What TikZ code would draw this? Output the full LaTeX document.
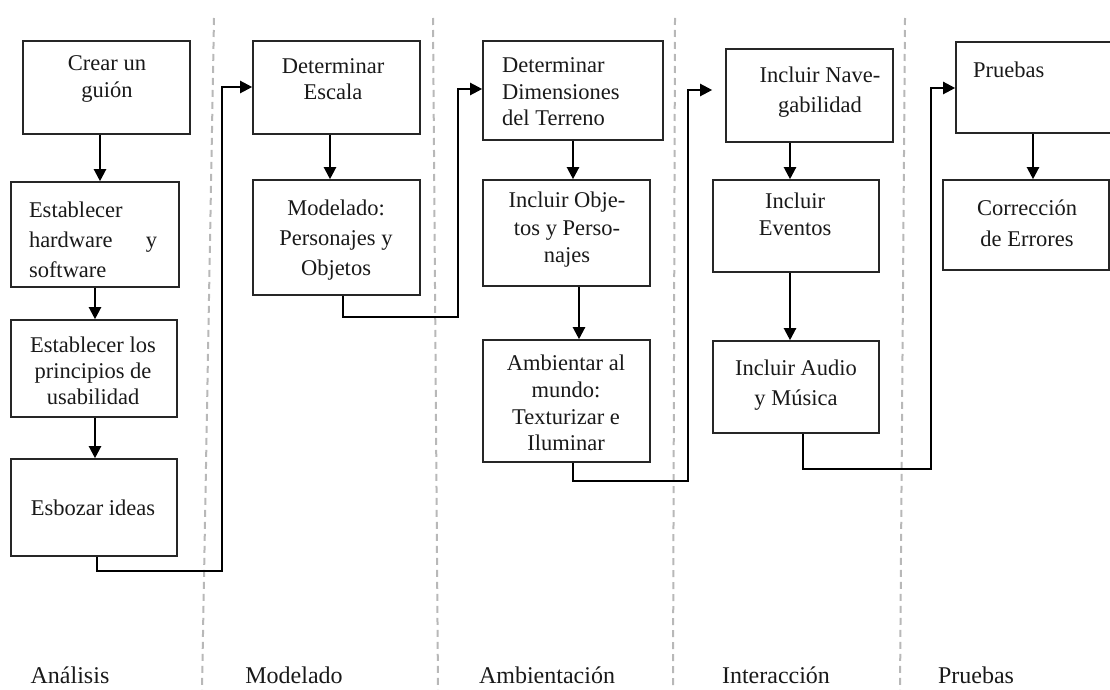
\documentclass[tikz,border=0pt]{standalone}
\usepackage{fontspec}
\setmainfont{Liberation Serif}
\usetikzlibrary{arrows.meta,calc}
\begin{document}
\begin{tikzpicture}[x=1pt,y=-1pt,
  box/.style={draw=black!85, line width=1.6pt, inner sep=0pt},
  txt/.style={inner sep=0pt, align=center, text=black!90, font=\fontsize{22.5}{27}\selectfont},
  arr/.style={draw=black, line width=2.2pt, line join=miter, -{Triangle[length=12pt,width=12pt]}},
  sep/.style={draw=black!28, line width=2pt, dash pattern=on 7pt off 5pt},
  lab/.style={inner sep=0pt, text=black!90, font=\fontsize{24}{28}\selectfont}]
\useasboundingbox (0,0) rectangle (1110,690);

% separators
\draw[sep] (214,18) -- (202,690);
\draw[sep] (433,18) -- (438,690);
\draw[sep] (675,18) -- (673,690);
\draw[sep] (905,18) -- (900,690);

% boxes
\node[box, minimum width=167pt, minimum height=93pt]  (b1)  at (106.5,87.5) {};
\node[box, minimum width=168pt, minimum height=105pt] (b2)  at (95,234.5) {};
\node[box, minimum width=166pt, minimum height=97pt]  (b3)  at (94,368.5) {};
\node[box, minimum width=166pt, minimum height=97pt]  (b4)  at (94,507.5) {};
\node[box, minimum width=167pt, minimum height=93pt]  (b5)  at (336.5,87.5) {};
\node[box, minimum width=167pt, minimum height=115pt] (b6)  at (336.5,237.5) {};
\node[box, minimum width=180pt, minimum height=99pt]  (b7)  at (573,90.5) {};
\node[box, minimum width=167pt, minimum height=106pt] (b8)  at (566.5,233) {};
\node[box, minimum width=167pt, minimum height=122pt] (b9)  at (566.5,401) {};
\node[box, minimum width=167pt, minimum height=93pt]  (b10) at (809.5,95.5) {};
\node[box, minimum width=166pt, minimum height=92pt]  (b11) at (796,226) {};
\node[box, minimum width=166pt, minimum height=92pt]  (b12) at (796,387) {};
\node[box, minimum width=162pt, minimum height=91pt]  (b13) at (1037,87.5) {};
\node[box, minimum width=166pt, minimum height=90pt]  (b14) at (1026,225) {};

% texts
\node[txt] (t1) at (107,79) {Crear un\\guión};
\node[txt, text width=128pt, align=left, font=\fontsize{22.5}{30}\selectfont] (t2) at (93,240) {Establecer\\hardware\hfill y\\software};
\node[txt, font=\fontsize{22.5}{26}\selectfont] (t3) at (93,371) {Establecer los\\principios de\\usabilidad};
\node[txt] (t4) at (93,508) {Esbozar ideas};
\node[txt, font=\fontsize{22.5}{26}\selectfont] (t5) at (333,79) {Determinar\\Escala};
\node[txt, font=\fontsize{22.5}{30}\selectfont] (t6) at (336,240) {Modelado:\\Personajes y\\Objetos};
\node[txt, align=left, anchor=west, font=\fontsize{22.5}{26.5}\selectfont] (t7) at (502,92) {Determinar\\Dimensiones\\del Terreno};
\node[txt, font=\fontsize{22.5}{27.5}\selectfont] (t8) at (567,230) {Incluir Obje-\\tos y Perso-\\najes};
\node[txt, font=\fontsize{22.5}{26.7}\selectfont] (t9) at (566,403) {Ambientar al\\mundo:\\Texturizar e\\Iluminar};
\node[txt, font=\fontsize{22.5}{30}\selectfont] (t10) at (820,92) {Incluir Nave-\\gabilidad};
\node[txt] (t11) at (795,214) {Incluir\\Eventos};
\node[txt, font=\fontsize{22.5}{30}\selectfont] (t12) at (796,385) {Incluir Audio\\y Música};
\node[txt, anchor=west] (t13) at (973,70) {Pruebas};
\node[txt, font=\fontsize{22.5}{31}\selectfont] (t14) at (1027,223) {Corrección\\de Errores};

% bottom labels
\node[lab] (l1) at (70,675) {Análisis};
\node[lab] (l2) at (294,675) {Modelado};
\node[lab] (l3) at (547,675) {Ambientación};
\node[lab] (l4) at (776,675) {Interacción};
\node[lab] (l5) at (976,675) {Pruebas};

% vertical arrows
\coordinate (x1) at (100,0);
\coordinate (x2) at (95,0);
\coordinate (x5) at (330,0);
\coordinate (x7) at (573,0);
\coordinate (x8) at (579,0);
\coordinate (x10) at (790,0);
\coordinate (x13) at (1033,0);
\draw[arr] (b1.south -| x1) -- (b2.north -| x1);
\draw[arr] (b2.south -| x2) -- (b3.north -| x2);
\draw[arr] (b3.south -| x2) -- (b4.north -| x2);
\draw[arr] (b5.south -| x5) -- (b6.north -| x5);
\draw[arr] (b7.south -| x7) -- (b8.north -| x7);
\draw[arr] (b8.south -| x8) -- (b9.north -| x8);
\draw[arr] (b10.south -| x10) -- (b11.north -| x10);
\draw[arr] (b11.south -| x10) -- (b12.north -| x10);
\draw[arr] (b13.south -| x13) -- (b14.north -| x13);

% column-to-column connectors
\coordinate (c1a) at (97,571);  \coordinate (c1b) at (222,571); \coordinate (c1c) at (222,87);
\coordinate (c2a) at (343,317); \coordinate (c2b) at (458,317); \coordinate (c2c) at (458,89);
\coordinate (c3a) at (573,481); \coordinate (c3b) at (688,481); \coordinate (c3c) at (688,90);
\coordinate (c4a) at (803,469); \coordinate (c4b) at (931,469); \coordinate (c4c) at (931,88);
\draw[arr] (b4.south -| c1a) -- (c1a) -- (c1b) -- (c1c) -- (b5.west |- c1c);
\draw[arr] (b6.south -| c2a) -- (c2a) -- (c2b) -- (c2c) -- (b7.west |- c2c);
\draw[arr, shorten >=13pt] (b9.south -| c3a) -- (c3a) -- (c3b) -- (c3c) -- (b10.west |- c3c);
\draw[arr] (b12.south -| c4a) -- (c4a) -- (c4b) -- (c4c) -- (b13.west |- c4c);
\end{tikzpicture}
\end{document}
